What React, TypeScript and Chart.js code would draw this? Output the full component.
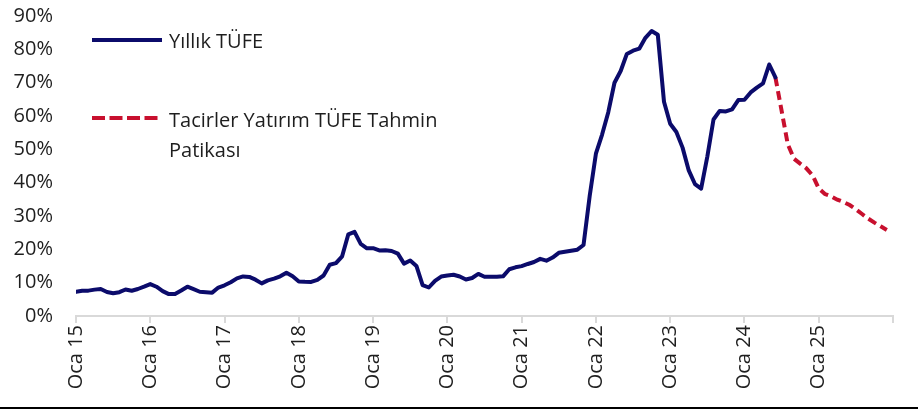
import React, { useEffect, useRef } from "react";
import { Chart, registerables } from "chart.js";

Chart.register(...registerables);

// Yıllık TÜFE, Oca 2015 – Haz 2024 (%)
const cpi2015 = [7.24, 7.55, 7.61, 7.91, 8.09, 7.2, 6.81, 7.14, 7.95, 7.58, 8.1, 8.81];
const cpi2016 = [9.58, 8.78, 7.46, 6.57, 6.58, 7.64, 8.79, 8.05, 7.28, 7.16, 7.0, 8.53];
const cpi2017 = [9.22, 10.13, 11.29, 11.87, 11.72, 10.9, 9.79, 10.68, 11.2, 11.9, 12.98, 11.92];
const cpi2018 = [10.35, 10.26, 10.23, 10.85, 12.15, 15.39, 15.85, 17.9, 24.52, 25.24, 21.62, 20.3];
const cpi2019 = [20.35, 19.67, 19.71, 19.5, 18.71, 15.72, 16.65, 15.01, 9.26, 8.55, 10.56, 11.84];
const cpi2020 = [12.15, 12.37, 11.86, 10.94, 11.39, 12.62, 11.76, 11.77, 11.75, 11.89, 14.03, 14.6];
const cpi2021 = [14.97, 15.61, 16.19, 17.14, 16.59, 17.53, 18.95, 19.25, 19.58, 19.89, 21.31, 36.08];
const cpi2022 = [48.69, 54.44, 61.14, 69.97, 73.5, 78.62, 79.6, 80.21, 83.45, 85.51, 84.39, 64.27];
const cpi2023 = [57.68, 55.18, 50.51, 43.68, 39.59, 38.21, 47.83, 58.94, 61.53, 61.36, 61.98, 64.77];
const cpi2024 = [64.86, 67.07, 68.5, 69.8, 75.45, 71.6];

// Tacirler Yatırım TÜFE Tahmin Patikası, Haz 2024 – Ara 2025 (%)
const forecast = [71.6, 61.6, 51.5, 47.2, 45.7, 44.3, 42.2, 38.3, 36.6, 35.9, 34.9, 34.2, 33.3, 32.0, 30.6, 29.2, 28.0, 26.9, 25.8];

const xTickLabels = ["Oca 15", "Oca 16", "Oca 17", "Oca 18", "Oca 19", "Oca 20", "Oca 21", "Oca 22", "Oca 23", "Oca 24", "Oca 25"];
const seriesNames = ["Yıllık TÜFE", "Tacirler Yatırım TÜFE Tahmin Patikası"];
const totalMonths = 132;

const cpi = [...cpi2015, ...cpi2016, ...cpi2017, ...cpi2018, ...cpi2019, ...cpi2020, ...cpi2021, ...cpi2022, ...cpi2023, ...cpi2024];

const BLUE = "#0b0b6b";
const RED = "#c8102e";
const FONT = "'Open Sans', 'Noto Sans', sans-serif";
const TEXT = "#1e1e1e";

function zeroPad(s: any) {
  s.paddingTop = 0;
  s.paddingBottom = 0;
  s.paddingLeft = 0;
  s.paddingRight = 0;
}

export default function App() {
  const ref = useRef<HTMLCanvasElement | null>(null);

  useEffect(() => {
    if (!ref.current) return;
    const start = cpi.length - 1;
    const chart = new Chart(ref.current, {
      type: "line",
      data: {
        datasets: [
          {
            label: seriesNames[0],
            data: cpi.map((v, i) => ({ x: i, y: v })),
            borderColor: BLUE,
            borderWidth: 4,
            pointRadius: 0,
            tension: 0,
            borderJoinStyle: "round",
            borderCapStyle: "round",
          },
          {
            label: seriesNames[1],
            data: forecast.map((v, i) => ({ x: start + i, y: v })),
            borderColor: RED,
            borderWidth: 4,
            borderDash: [9, 5],
            pointRadius: 0,
            tension: 0,
          },
        ],
      },
      options: {
        responsive: false,
        animation: false,
        layout: { padding: { top: 16, right: 25, left: 0, bottom: 0 } },
        plugins: { legend: { display: false }, tooltip: { enabled: false } },
        scales: {
          x: {
            type: "linear",
            min: 0,
            max: totalMonths,
            afterFit: (s: any) => {
              s.height = 98;
              zeroPad(s);
            },
            grid: { drawOnChartArea: false, drawTicks: true, tickLength: 7, color: "#d9d9d9", lineWidth: 2 },
            border: { display: true, color: "#d9d9d9", width: 2 },
            afterBuildTicks: (s: any) => {
              const t = [];
              for (let v = 0; v <= totalMonths; v += 12) t.push({ value: v });
              s.ticks = t;
            },
            ticks: {
              autoSkip: false,
              maxRotation: 90,
              minRotation: 90,
              padding: 2,
              color: TEXT,
              font: { family: FONT, size: 20 },
              callback: (v: any) => xTickLabels[Math.round(Number(v) / 12)] ?? "",
            },
          },
          y: {
            min: 0,
            max: 90,
            afterFit: (s: any) => {
              s.width = 76;
              zeroPad(s);
            },
            grid: { display: false, drawTicks: false },
            border: { display: false },
            ticks: {
              stepSize: 10,
              padding: 23,
              color: TEXT,
              font: { family: FONT, size: 20 },
              callback: (v: any) => v + "%",
            },
          },
        },
      },
    });
    return () => chart.destroy();
  }, []);

  const textStyle: React.CSSProperties = {
    position: "absolute",
    left: 169,
    fontFamily: FONT,
    fontSize: 20,
    lineHeight: "30px",
    color: TEXT,
    whiteSpace: "nowrap",
  };

  return (
    <div style={{ position: "fixed", left: 0, top: 0, width: 918, height: 414, background: "#fff" }}>
      <canvas ref={ref} width={918} height={414} style={{ position: "absolute", left: 0, top: 0 }} />
      <svg style={{ position: "absolute", left: 0, top: 0 }} width={918} height={414}>
        <line x1={92} y1={40} x2={162} y2={40} stroke={BLUE} strokeWidth={4} />
        <line x1={92} y1={118} x2={162} y2={118} stroke={RED} strokeWidth={4} strokeDasharray="13 4.5" />
        <line x1={0} y1={408} x2={918} y2={408} stroke="#000" strokeWidth={2} />
      </svg>
      <div style={{ ...textStyle, top: 26 }}>{seriesNames[0]}</div>
      <div style={{ ...textStyle, top: 105 }}>
        Tacirler Yatırım TÜFE Tahmin
        <br />
        Patikası
      </div>
    </div>
  );
}
